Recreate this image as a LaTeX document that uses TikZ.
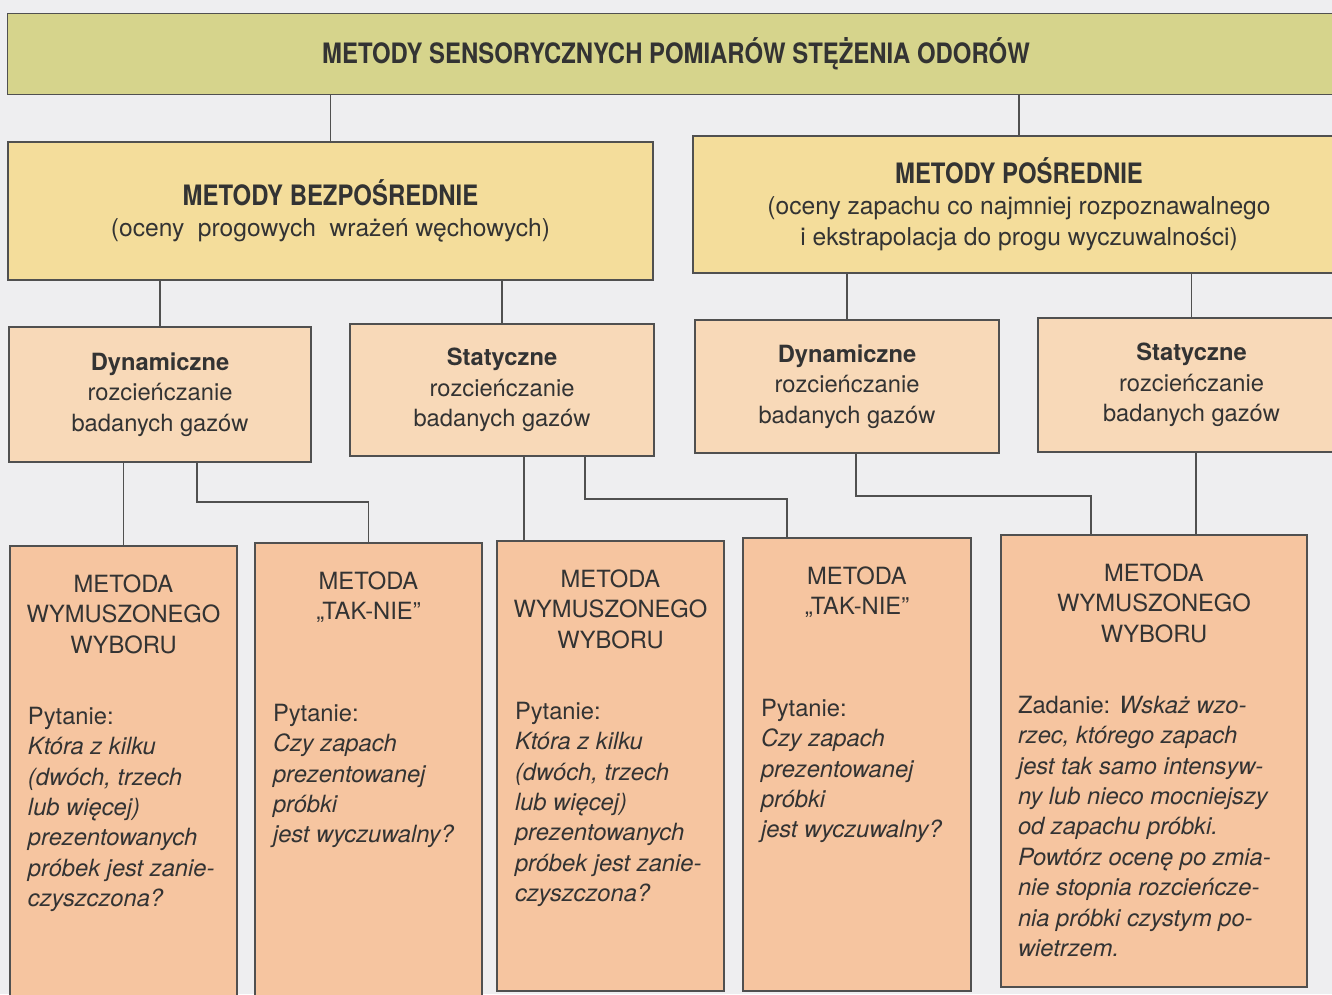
\documentclass[tikz,border=0pt]{standalone}
\usepackage{fontspec}
\setmainfont{TeX Gyre Heros}
\newfontfamily\headfont[FakeStretch=0.85]{TeX Gyre Heros}

\definecolor{paper}{RGB}{238,238,240}
\definecolor{lvlone}{RGB}{214,212,140}
\definecolor{lvltwo}{RGB}{244,221,155}
\definecolor{lvlthree}{RGB}{248,217,184}
\definecolor{lvlfour}{RGB}{246,197,160}
\definecolor{ink}{RGB}{51,51,51}
\definecolor{wire}{RGB}{80,80,80}

\begin{document}
\begin{tikzpicture}[x=0.02cm, y=-0.02cm,
        every node/.style={inner sep=0pt, outer sep=0pt, text=ink},
        box/.style={draw=wire, line width=0.7pt, rectangle, align=center},
        small/.style={font=\fontsize{13.5}{17.3}\selectfont},
        big/.style={font=\fontsize{14}{17.6}\selectfont},
        link/.style={draw=wire, line width=0.6pt}
    ]
    \clip (0,0) rectangle (1332,994);
    \fill[paper] (0,0) rectangle (1332,994);

    % level 1
    \node[box, fill=lvlone, minimum width=26.76cm, minimum height=1.62cm] (top) at (676,54)
        {\headfont\bfseries\fontsize{16}{19}\selectfont METODY SENSORYCZNYCH POMIARÓW STĘŻENIA ODORÓW};

    % level 2
    \node[box, big, fill=lvltwo, minimum width=12.90cm, minimum height=2.76cm] (bezp) at (330.5,211)
        {{\headfont\bfseries\fontsize{16}{17.6}\selectfont METODY BEZPOŚREDNIE}\\(oceny\ \ progowych\ \ wrażeń węchowych)};
    \node[box, big, fill=lvltwo, minimum width=13.04cm, minimum height=2.74cm] (posr) at (1019,204.5)
        {{\headfont\bfseries\fontsize{16}{17.6}\selectfont METODY POŚREDNIE}\\(oceny zapachu co najmniej rozpoznawalnego\\i ekstrapolacja do progu wyczuwalności)};

    % level 3
    \node[box, small, fill=lvlthree, minimum width=6.04cm, minimum height=2.70cm] (dyn1) at (160,394.5)
        {\textbf{Dynamiczne}\\rozcieńczanie\\badanych gazów};
    \node[box, small, fill=lvlthree, minimum width=6.08cm, minimum height=2.64cm] (stat1) at (502,390)
        {\textbf{Statyczne}\\rozcieńczanie\\badanych gazów};
    \node[box, small, fill=lvlthree, minimum width=6.08cm, minimum height=2.66cm] (dyn2) at (847,386.5)
        {\textbf{Dynamiczne}\\rozcieńczanie\\badanych gazów};
    \node[box, small, fill=lvlthree, minimum width=6.14cm, minimum height=2.68cm] (stat2) at (1191.5,385)
        {\textbf{Statyczne}\\rozcieńczanie\\badanych gazów};

    % level 4
    \node[box, fill=lvlfour, minimum width=4.54cm, minimum height=9.08cm] (b1) at (123.5,773) {};
    \node[box, fill=lvlfour, minimum width=4.54cm, minimum height=9.14cm] (b2) at (368.5,771.5) {};
    \node[box, fill=lvlfour, minimum width=4.54cm, minimum height=9.00cm] (b3) at (610.5,766) {};
    \node[box, fill=lvlfour, minimum width=4.56cm, minimum height=9.06cm] (b4) at (857,764.5) {};
    \node[box, fill=lvlfour, minimum width=6.12cm, minimum height=9.04cm] (b5) at (1154,761) {};

    \node[small, align=center, anchor=north] (b1h) at (123.5,574.5) {METODA\\WYMUSZONEGO\\WYBORU};
    \node[small, align=center, anchor=north] (b2h) at (368.5,571.5) {METODA\\„TAK-NIE”};
    \node[small, align=center, anchor=north] (b3h) at (610.5,569.5) {METODA\\WYMUSZONEGO\\WYBORU};
    \node[small, align=center, anchor=north] (b4h) at (857,566.5) {METODA\\„TAK-NIE”};
    \node[small, align=center, anchor=north] (b5h) at (1154,563.5) {METODA\\WYMUSZONEGO\\WYBORU};

    \node[small, align=left, anchor=north west] (b1t) at (28,707)
        {Pytanie:\\\textit{Która z kilku}\\\textit{(dwóch, trzech}\\\textit{lub więcej)}\\\textit{prezentowanych}\\\textit{próbek jest zanie-}\\\textit{czyszczona?}};
    \node[small, align=left, anchor=north west] (b2t) at (273,704)
        {Pytanie:\\\textit{Czy zapach}\\\textit{prezentowanej}\\\textit{próbki}\\\textit{jest wyczuwalny?}};
    \node[small, align=left, anchor=north west] (b3t) at (515,702)
        {Pytanie:\\\textit{Która z kilku}\\\textit{(dwóch, trzech}\\\textit{lub więcej)}\\\textit{prezentowanych}\\\textit{próbek jest zanie-}\\\textit{czyszczona?}};
    \node[small, align=left, anchor=north west] (b4t) at (761,699)
        {Pytanie:\\\textit{Czy zapach}\\\textit{prezentowanej}\\\textit{próbki}\\\textit{jest wyczuwalny?}};
    \node[small, align=left, anchor=north west] (b5t) at (1018,696)
        {Zadanie: \textit{Wskaż wzo-}\\\textit{rzec, którego zapach}\\\textit{jest tak samo intensyw-}\\\textit{ny lub nieco mocniejszy}\\\textit{od zapachu próbki.}\\\textit{Powtórz ocenę po zmia-}\\\textit{nie stopnia rozcieńcze-}\\\textit{nia próbki czystym po-}\\\textit{wietrzem.}};

    % links
    \draw[link] (top.south -| bezp.north) -- (bezp.north);
    \draw[link] (top.south -| posr.north) -- (posr.north);
    \draw[link] (bezp.south -| dyn1.north) -- (dyn1.north);
    \draw[link] (bezp.south -| stat1.north) -- (stat1.north);
    \draw[link] (posr.south -| dyn2.north) -- (dyn2.north);
    \draw[link] (posr.south -| stat2.north) -- (stat2.north);

    \coordinate (j1) at (197,502);
    \coordinate (j2) at (524,500);
    \coordinate (j3) at (585,499);
    \coordinate (j4) at (787,499);
    \coordinate (j5) at (856,496);
    \coordinate (j6) at (1091,496);
    \coordinate (j7) at (1196,500);

    \draw[link] (dyn1.south -| b1.north) -- (b1.north);
    \draw[link] (j1 |- dyn1.south) -- (j1) -| (b2.north);
    \draw[link] (j2 |- stat1.south) -- (j2 |- b3.north);
    \draw[link] (j3 |- stat1.south) -- (j3) -- (j4) -- (j4 |- b4.north);
    \draw[link] (j5 |- dyn2.south) -- (j5) -- (j6) -- (j6 |- b5.north);
    \draw[link] (j7 |- stat2.south) -- (j7 |- b5.north);
\end{tikzpicture}
\end{document}
